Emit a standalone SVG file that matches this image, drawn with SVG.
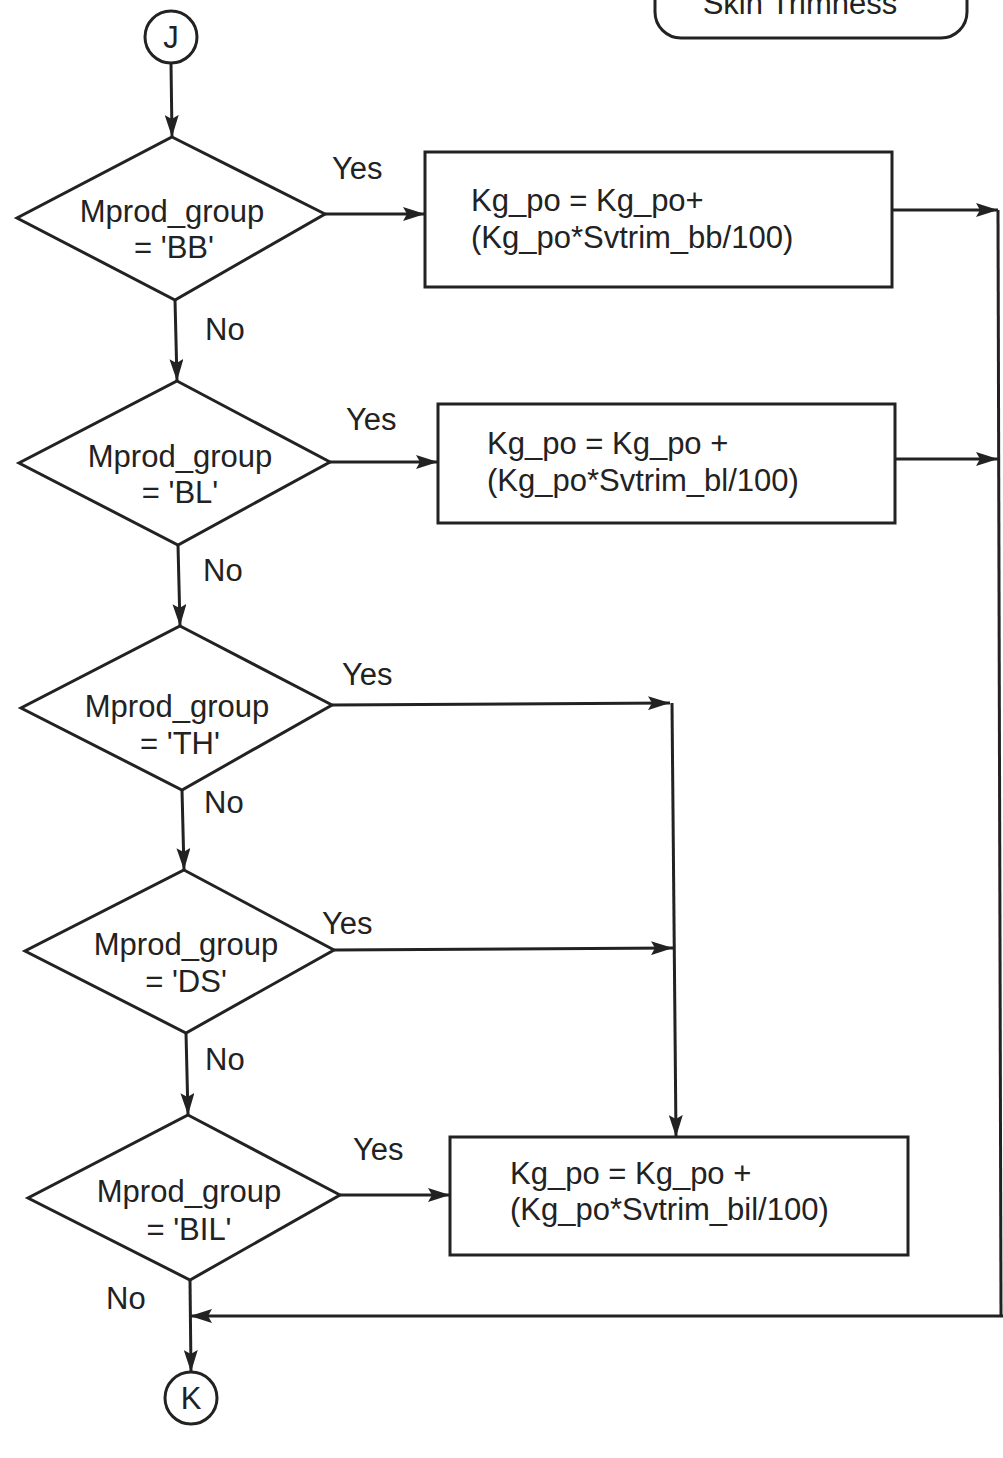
<svg xmlns="http://www.w3.org/2000/svg" width="1003" height="1458" viewBox="0 0 1003 1458">
  <defs>
    <marker id="arrow" viewBox="0 0 22 14" refX="22" refY="7" markerWidth="22" markerHeight="14" markerUnits="userSpaceOnUse" orient="auto">
      <path d="M0,0 L22,7 L0,14 L4,7 Z" fill="#222222"/>
    </marker>
  </defs>
  <style>
    .shape { fill: none; stroke: #222222; stroke-width: 3; }
    .line { fill: none; stroke: #222222; stroke-width: 3; }
    .arr { marker-end: url(#arrow); }
    text { font-family: "Liberation Sans", Arial, sans-serif; font-size: 31px; fill: #222222; }
    .c { text-anchor: middle; }
  </style>
  <rect width="1003" height="1458" fill="#ffffff"/>

  <!-- title box, partly above the top edge -->
  <g id="title">
    <rect class="shape" x="655" y="-40" width="312" height="78" rx="26"/>
    <text class="c" x="800" y="14" font-size="28">Skin Trimness</text>
  </g>

  <!-- connectors and branch labels -->
  <g id="connectors">
    <line class="line arr" x1="171" y1="63" x2="172" y2="137"/>
    <line class="line arr" x1="325" y1="214" x2="425" y2="214"/>
    <line class="line arr" x1="892" y1="210" x2="998" y2="210"/>
    <line class="line arr" x1="175" y1="300" x2="177" y2="381"/>
    <line class="line arr" x1="330" y1="462" x2="438" y2="462"/>
    <line class="line arr" x1="895" y1="459" x2="998" y2="459"/>
    <line class="line arr" x1="178" y1="545" x2="180" y2="626"/>
    <line class="line arr" x1="332" y1="705" x2="670" y2="703"/>
    <line class="line arr" x1="672" y1="703" x2="676" y2="1137"/>
    <line class="line arr" x1="182" y1="790" x2="184" y2="870"/>
    <line class="line arr" x1="334" y1="950" x2="673" y2="948"/>
    <line class="line arr" x1="186" y1="1033" x2="188" y2="1115"/>
    <line class="line arr" x1="340" y1="1195" x2="450" y2="1195"/>
    <line class="line" x1="998" y1="210" x2="1001" y2="1316"/>
    <line class="line arr" x1="1003" y1="1316" x2="190" y2="1316"/>
    <line class="line arr" x1="190" y1="1280" x2="191" y2="1372"/>
    <text x="332" y="179">Yes</text>
    <text x="205" y="340">No</text>
    <text x="346" y="430">Yes</text>
    <text x="203" y="581">No</text>
    <text x="342" y="685">Yes</text>
    <text x="204" y="813">No</text>
    <text x="322" y="934">Yes</text>
    <text x="205" y="1070">No</text>
    <text x="353" y="1160">Yes</text>
    <text x="106" y="1309">No</text>
  </g>

  <g id="J">
    <circle class="shape" cx="171" cy="37" r="26"/>
    <text class="c" x="171" y="48">J</text>
  </g>

  <g id="decision-bb">
    <polygon class="shape" points="172,137 325,214 175,300 17,218"/>
    <text class="c" x="172" y="222">Mprod_group</text>
    <text class="c" x="174" y="258">= 'BB'</text>
  </g>
  <g id="process-bb">
    <rect class="shape" x="425" y="152" width="467" height="135"/>
    <text x="471" y="211">Kg_po = Kg_po+</text>
    <text x="471" y="248">(Kg_po*Svtrim_bb/100)</text>
  </g>

  <g id="decision-bl">
    <polygon class="shape" points="177,381 330,462 178,545 19,463"/>
    <text class="c" x="180" y="467">Mprod_group</text>
    <text class="c" x="180" y="503">= 'BL'</text>
  </g>
  <g id="process-bl">
    <rect class="shape" x="438" y="404" width="457" height="119"/>
    <text x="487" y="454">Kg_po = Kg_po +</text>
    <text x="487" y="491">(Kg_po*Svtrim_bl/100)</text>
  </g>

  <g id="decision-th">
    <polygon class="shape" points="180,626 332,705 182,790 21,708"/>
    <text class="c" x="177" y="717">Mprod_group</text>
    <text class="c" x="180" y="754">= 'TH'</text>
  </g>

  <g id="decision-ds">
    <polygon class="shape" points="184,870 334,950 186,1033 25,951"/>
    <text class="c" x="186" y="955">Mprod_group</text>
    <text class="c" x="186" y="992">= 'DS'</text>
  </g>

  <g id="decision-bil">
    <polygon class="shape" points="188,1115 340,1195 190,1280 28,1198"/>
    <text class="c" x="189" y="1202">Mprod_group</text>
    <text class="c" x="189" y="1240">= 'BIL'</text>
  </g>
  <g id="process-bil">
    <rect class="shape" x="450" y="1137" width="458" height="118"/>
    <text x="510" y="1184">Kg_po = Kg_po +</text>
    <text x="510" y="1220">(Kg_po*Svtrim_bil/100)</text>
  </g>

  <g id="K">
    <circle class="shape" cx="191" cy="1398" r="26"/>
    <text class="c" x="191" y="1409">K</text>
  </g>
</svg>
